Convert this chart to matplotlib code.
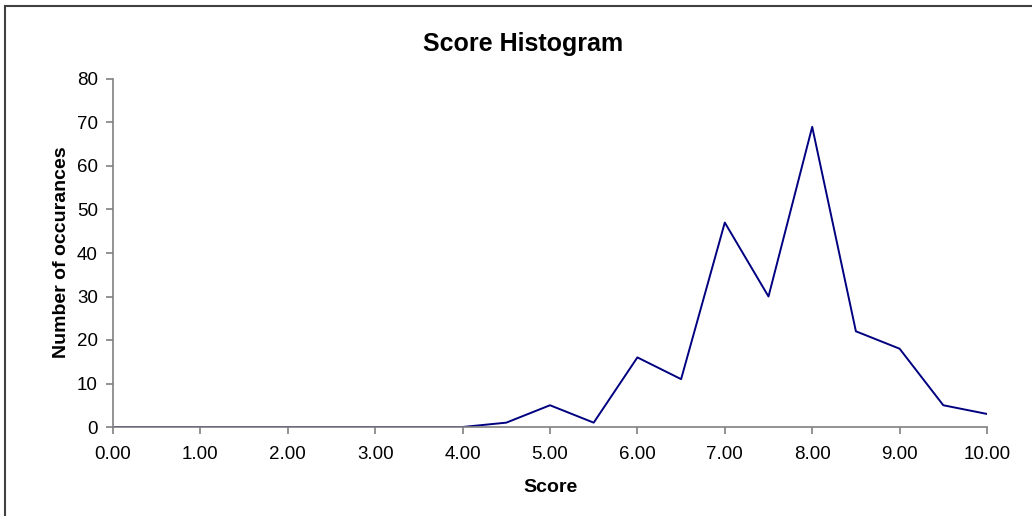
import matplotlib
matplotlib.use("Agg")
import matplotlib.pyplot as plt
from matplotlib.lines import Line2D

plt.rcParams["font.family"] = ["Liberation Sans", "DejaVu Sans"]

scores = [0.0, 0.5, 1.0, 1.5, 2.0, 2.5, 3.0, 3.5, 4.0, 4.5, 5.0,
          5.5, 6.0, 6.5, 7.0, 7.5, 8.0, 8.5, 9.0, 9.5, 10.0]
counts = [0, 0, 0, 0, 0, 0, 0, 0, 0, 1, 5,
          1, 16, 11, 47, 30, 69, 22, 18, 5, 3]
x_ticks = [0, 1, 2, 3, 4, 5, 6, 7, 8, 9, 10]
y_ticks = [0, 10, 20, 30, 40, 50, 60, 70, 80]

fig = plt.figure(figsize=(10.32, 5.16), dpi=100)
ax = fig.add_axes([113 / 1032, 1 - 427 / 516, 874 / 1032, 348 / 516])

ax.plot(scores, counts, color="#000080", linewidth=1.4)

ax.set_xlim(0, 10)
ax.set_ylim(0, 80)
ax.set_xticks(x_ticks)
ax.set_xticklabels([f"{v:.2f}" for v in x_ticks])
ax.set_yticks(y_ticks)

for side in ("top", "right"):
    ax.spines[side].set_visible(False)
for side in ("left", "bottom"):
    ax.spines[side].set_color("#808080")
    ax.spines[side].set_linewidth(1.2)
ax.tick_params(axis="both", direction="out", length=5, width=1.2, color="#808080",
               labelsize=13.5, labelcolor="black")
ax.tick_params(axis="x", pad=9)
ax.tick_params(axis="y", pad=6)

fig.text(523 / 1032, 1 - 44 / 516, "Score Histogram", ha="center", va="center",
         fontsize=18, fontweight="bold")
fig.text(550 / 1032, 1 - 488 / 516, "Score", ha="center", va="center",
         fontsize=14, fontweight="bold")
fig.text(62 / 1032, 1 - 252 / 516, "Number of occurances", ha="center", va="center",
         rotation=90, fontsize=14, fontweight="bold")

# outer chart border (only left and top edges fall inside the image)
fig.add_artist(Line2D([4.5 / 1032, 4.5 / 1032], [0, 1 - 5.5 / 516], transform=fig.transFigure,
                      color="#404040", linewidth=1.5))
fig.add_artist(Line2D([4.5 / 1032, 1], [1 - 5.5 / 516, 1 - 5.5 / 516], transform=fig.transFigure,
                      color="#404040", linewidth=1.5))

fig.savefig("out.png", dpi=100)
